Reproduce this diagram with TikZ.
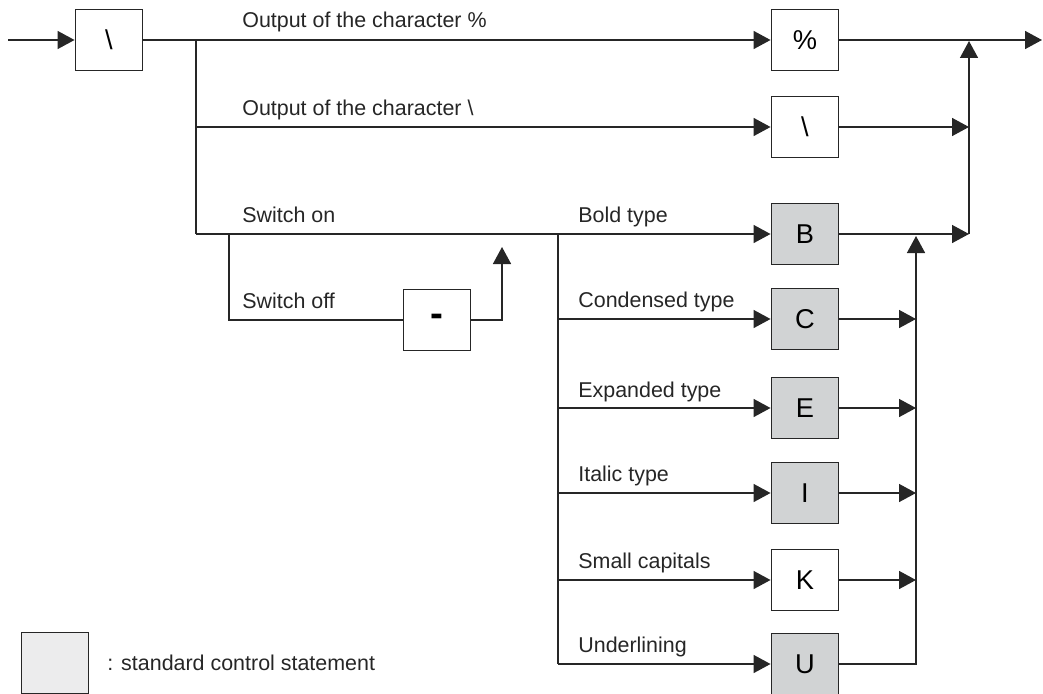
\documentclass[tikz,border=0pt]{standalone}
\usepackage{fontspec}
\setmainfont{Liberation Sans}
\usetikzlibrary{arrows.meta, positioning}
\definecolor{stdgray}{HTML}{D1D3D4}
\definecolor{leggray}{HTML}{ECECED}

\begin{document}
\begin{tikzpicture}
    [
        x=0.02cm, y=-0.02cm,
        font=\fontsize{12.2}{14}\selectfont,
        cbox/.style  ={rectangle, draw=black!85, line width=1.1pt, inner sep=0pt,
                       minimum width=1.34cm, minimum height=1.22cm,
                       font=\fontsize{15.5}{18}\selectfont},
        sbox/.style  ={cbox, fill=stdgray},
        oline/.style ={-, line width=0.85pt, draw=black!85},
        oarc/.style  ={oline, -{Triangle[length=3.4mm,width=3.6mm]}},
        lbl/.style   ={anchor=base west, inner sep=0pt, text=black!85}
    ]

    \useasboundingbox (0,0) rectangle (1043,693);

    % control boxes
    \node[cbox]     (bsl)   at (109,40)     {\textbackslash};
    \node[cbox]     (pct)   at (805,40)     {\%};
    \node[cbox]     (bs2)   at (805,127)    {\textbackslash};
    \node[sbox]     (B)     at (805,234)    {B};
    \node[sbox]     (C)     at (805,319)    {C};
    \node[sbox]     (E)     at (805,408)    {E};
    \node[sbox]     (I)     at (805,493)    {I};
    \node[cbox]     (K)     at (805,580)    {K};
    \node[sbox]     (U)     at (805,664)    {U};
    \node[cbox, font=\fontsize{22}{24}\selectfont\bfseries]
                    (minus) at (437,320)    {-};

    % junctions
    \coordinate     (in)    at (8,40);
    \coordinate     (out)   at (1042,40);
    \coordinate     (f0)    at (196,40);
    \coordinate     (f1)    at (196,127);
    \coordinate     (f2)    at (196,234);
    \coordinate     (s0)    at (229,234);
    \coordinate     (s1)    at (502,247);
    \coordinate     (v0)    at (558,234);
    \coordinate     (v1)    at (558,319);
    \coordinate     (v2)    at (558,408);
    \coordinate     (v3)    at (558,493);
    \coordinate     (v4)    at (558,580);
    \coordinate     (v5)    at (558,664);
    \coordinate     (w0)    at (916,236);
    \coordinate     (w1)    at (916,319);
    \coordinate     (w2)    at (916,408);
    \coordinate     (w3)    at (916,493);
    \coordinate     (w4)    at (916,580);
    \coordinate     (j0)    at (969,41);
    \coordinate     (j1)    at (969,127);
    \coordinate     (j2)    at (969,234);

    % labels
    \node[lbl]      (l0)    at (242,28)     {Output of the character \%};
    \node[lbl]      (l1)    at (242,115)    {Output of the character \textbackslash};
    \node[lbl]      (l2)    at (242,222)    {Switch on};
    \node[lbl]      (l3)    at (242,308)    {Switch off};
    \node[lbl]      (lB)    at (578,222)    {Bold type};
    \node[lbl]      (lC)    at (578,307)    {Condensed type};
    \node[lbl]      (lE)    at (578,397)    {Expanded type};
    \node[lbl]      (lI)    at (578,481)    {Italic type};
    \node[lbl]      (lK)    at (578,568)    {Small capitals};
    \node[lbl]      (lU)    at (578,652)    {Underlining};

    % legend
    \node[cbox, fill=leggray, line width=0.8pt] (leg) at (55,663) {};
    \node[anchor=west, inner sep=0pt, text=black!85] (legtxt) at (107,663)
        {: standard control statement};

    \draw[oarc]     (in) to (bsl);
    \draw[oline]    (bsl) to (f0);
    \draw[oarc]     (f0) to (pct);
    \draw[oline]    (f0) to (f2);
    \draw[oarc]     (f1) to (bs2);
    \draw[oarc]     (f2) to (B);

    \draw[oline]    (s0) |- (minus);
    \draw[oarc]     (minus) -| (s1);

    \draw[oline]    (v0) to (v5);
    \draw[oarc]     (v1) to (C);
    \draw[oarc]     (v2) to (E);
    \draw[oarc]     (v3) to (I);
    \draw[oarc]     (v4) to (K);
    \draw[oarc]     (v5) to (U);

    \draw[oarc]     (C) to (w1);
    \draw[oarc]     (E) to (w2);
    \draw[oarc]     (I) to (w3);
    \draw[oarc]     (K) to (w4);
    \draw[oarc]     (U) -| (w0);

    \draw[oarc]     (pct) to (out);
    \draw[oarc]     (bs2) to (j1);
    \draw[oarc]     (B) to (j2);
    \draw[oarc]     (j2) to (j0);

\end{tikzpicture}
\end{document}
